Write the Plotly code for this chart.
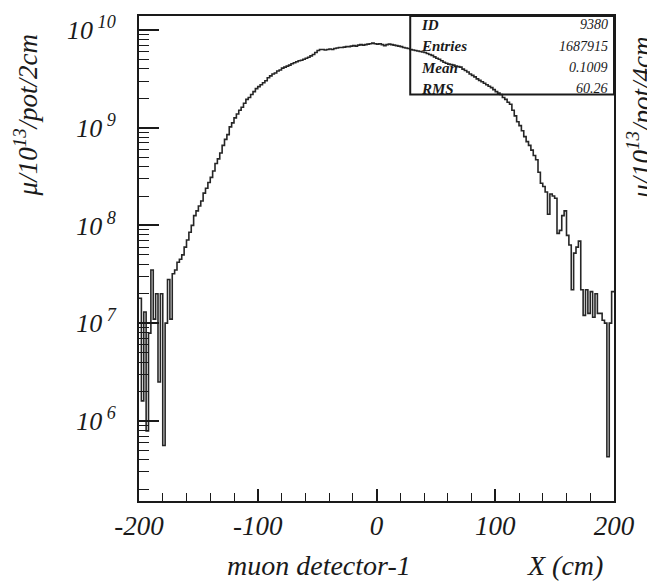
import plotly.graph_objects as go

# ---- data ----
bin_width = 2
bin_centers = list(range(-199, 200, 2))
counts = [
    1.8e7, 1.6e6, 1.3e7, 7.9e5, 7.9e6, 3.5e7, 1.1e7, 2.0e7, 2.5e6, 2.0e7,
    5.6e5, 1.0e7, 2.8e7, 1.1e7, 3.2e7, 3.5e7, 4.2e7, 4.5e7, 5.0e7, 6.0e7,
    7.1e7, 8.5e7, 1.0e8, 1.26e8, 1.41e8, 1.58e8, 1.78e8, 2.14e8, 2.4e8, 2.75e8,
    3.1e8, 3.6e8, 4.3e8, 4.8e8, 5.5e8, 6.6e8, 7.6e8, 8.5e8, 1.02e9, 1.12e9,
    1.26e9, 1.38e9, 1.51e9, 1.62e9, 1.78e9, 1.95e9, 2.04e9, 2.19e9, 2.34e9, 2.51e9,
    2.63e9, 2.75e9, 2.88e9, 3.02e9, 3.24e9, 3.39e9, 3.55e9, 3.63e9, 3.80e9, 3.89e9,
    4.07e9, 4.17e9, 4.27e9, 4.37e9, 4.52e9, 4.62e9, 4.73e9, 4.84e9, 4.90e9, 5.01e9,
    5.13e9, 5.25e9, 5.43e9, 5.62e9, 5.89e9, 6.17e9, 6.31e9, 6.31e9, 6.24e9, 6.31e9,
    6.38e9, 6.31e9, 6.46e9, 6.53e9, 6.61e9, 6.61e9, 6.68e9, 6.76e9, 6.76e9, 6.84e9,
    6.92e9, 6.84e9, 7.00e9, 7.08e9, 7.00e9, 7.08e9, 7.16e9, 7.24e9, 7.33e9, 7.24e9,
    7.16e9, 7.24e9, 7.08e9, 6.92e9, 7.08e9, 7.16e9, 7.08e9, 7.00e9, 6.92e9, 6.84e9,
    6.76e9, 6.61e9, 6.53e9, 6.46e9, 6.31e9, 6.24e9, 6.17e9, 6.10e9, 6.03e9, 5.96e9,
    5.89e9, 5.75e9, 5.62e9, 5.50e9, 5.31e9, 5.13e9, 5.01e9, 4.84e9, 4.68e9, 4.57e9,
    4.47e9, 4.42e9, 4.37e9, 4.27e9, 4.22e9, 4.17e9, 3.98e9, 3.85e9, 3.72e9, 3.55e9,
    3.43e9, 3.31e9, 3.16e9, 3.05e9, 2.95e9, 2.85e9, 2.75e9, 2.66e9, 2.57e9, 2.45e9,
    2.34e9, 2.26e9, 2.19e9, 2.04e9, 1.95e9, 1.82e9, 1.74e9, 1.51e9, 1.32e9, 1.15e9,
    1.05e9, 9.3e8, 8.1e8, 7.2e8, 6.6e8, 5.9e8, 5.2e8, 4.7e8, 3.5e8, 2.7e8,
    2.5e8, 2.2e8, 1.3e8, 2.1e8, 2.0e8, 1.9e8, 8.3e7, 8.9e7, 1.26e8, 1.41e8,
    7.9e7, 6.3e7, 2.2e7, 5.2e7, 6.0e7, 6.9e7, 2.2e7, 1.2e7, 2.2e7, 1.26e7,
    2.1e7, 1.15e7, 2.0e7, 1.26e7, 1.26e7, 1.07e7, 1.0e7, 4.3e5, 1.0e7, 2.1e7,
]
assert len(counts) == len(bin_centers)

y_tick_vals = [1e6, 1e7, 1e8, 1e9, 1e10]
y_tick_text = ["10<sup> 6</sup>", "10<sup> 7</sup>", "10<sup> 8</sup>", "10<sup> 9</sup>", "10<sup> 10</sup>"]
x_tick_vals = [-200, -100, 0, 100, 200]
x_tick_text = ["-200", "-100", "0", "100", "200"]

stats_labels = ["ID", "Entries", "Mean", "RMS"]
stats_values = ["9380", "1687915", "0.1009", "60.26"]

# ---- step outline ----
edges = [c - bin_width / 2 for c in bin_centers] + [bin_centers[-1] + bin_width / 2]
step_y = counts + [counts[-1]]

FONT = "Liberation Serif"
INK = "#1a1a1a"

fig = go.Figure()
fig.add_trace(go.Scatter(
    x=edges, y=step_y, mode="lines", line_shape="hv",
    line=dict(color="#262626", width=1.6), showlegend=False, hoverinfo="skip",
))

minor_y = [m * 10 ** e for e in range(5, 10) for m in range(2, 10)]

fig.update_layout(
    width=647, height=585,
    margin=dict(l=139, r=30, t=14, b=84),
    paper_bgcolor="white", plot_bgcolor="white",
    font=dict(family=FONT, color=INK, style="italic"),
    xaxis=dict(
        range=[-200, 200], showgrid=False, zeroline=False,
        showline=True, linecolor=INK, linewidth=2, mirror=True,
        ticks="inside", ticklen=12, tickwidth=1.5, tickcolor=INK,
        tickvals=x_tick_vals, ticktext=x_tick_text,
        tickfont=dict(family=FONT, size=27, style="italic", color=INK),
        minor=dict(ticks="inside", dtick=20, ticklen=8, tickwidth=1.2, tickcolor=INK, showgrid=False),
    ),
    yaxis=dict(
        type="log", range=[5.18, 10.143], showgrid=False, zeroline=False,
        showline=True, linecolor=INK, linewidth=2, mirror=True,
        ticks="inside", ticklen=20, tickwidth=1.5, tickcolor=INK,
        tickvals=y_tick_vals, ticktext=y_tick_text,
        tickfont=dict(family=FONT, size=26, style="italic", color=INK),
        ticklabelstandoff=16,
        minor=dict(ticks="inside", tickvals=minor_y, ticklen=10, tickwidth=1.2, tickcolor=INK, showgrid=False),
    ),
)

# stats box
fig.add_shape(type="rect", xref="paper", yref="paper", x0=0.571, x1=1.0, y0=0.838, y1=1.0,
              line=dict(color=INK, width=2), fillcolor="rgba(0,0,0,0)")
rows_y = [0.9815, 0.938, 0.893, 0.850]
for lab, val, yy in zip(stats_labels, stats_values, rows_y):
    fig.add_annotation(xref="paper", yref="paper", x=0.590, y=yy, text="<b>" + lab + "</b>",
                       showarrow=False, xanchor="left", yanchor="middle",
                       font=dict(family=FONT, size=15, style="italic", color=INK))
    fig.add_annotation(xref="paper", yref="paper", x=0.992, y=yy, text=val,
                       showarrow=False, xanchor="right", yanchor="middle",
                       font=dict(family=FONT, size=14, style="italic", color=INK))

# axis titles
fig.add_annotation(xref="paper", yref="paper", x=-0.238, y=0.795, textangle=-90,
                   text="\u03bc/10<sup>13</sup>/pot/2cm", showarrow=False,
                   xanchor="center", yanchor="middle",
                   font=dict(family=FONT, size=27, style="italic", color=INK))
fig.add_annotation(xref="paper", yref="paper", x=0.379, y=-0.1335,
                   text="muon detector-1", showarrow=False, xanchor="center", yanchor="middle",
                   font=dict(family=FONT, size=28, style="italic", color=INK))
fig.add_annotation(xref="paper", yref="paper", x=0.897, y=-0.1335,
                   text="X (cm)", showarrow=False, xanchor="center", yanchor="middle",
                   font=dict(family=FONT, size=28, style="italic", color=INK))
# neighbouring panel's axis title, cut off at right edge as in the scan
fig.add_annotation(xref="paper", yref="paper", x=1.053, y=0.79, textangle=-90,
                   text="\u03bc/10<sup>13</sup>/pot/4cm", showarrow=False,
                   xanchor="center", yanchor="middle",
                   font=dict(family=FONT, size=27, style="italic", color=INK))

fig.write_html("out.html")
